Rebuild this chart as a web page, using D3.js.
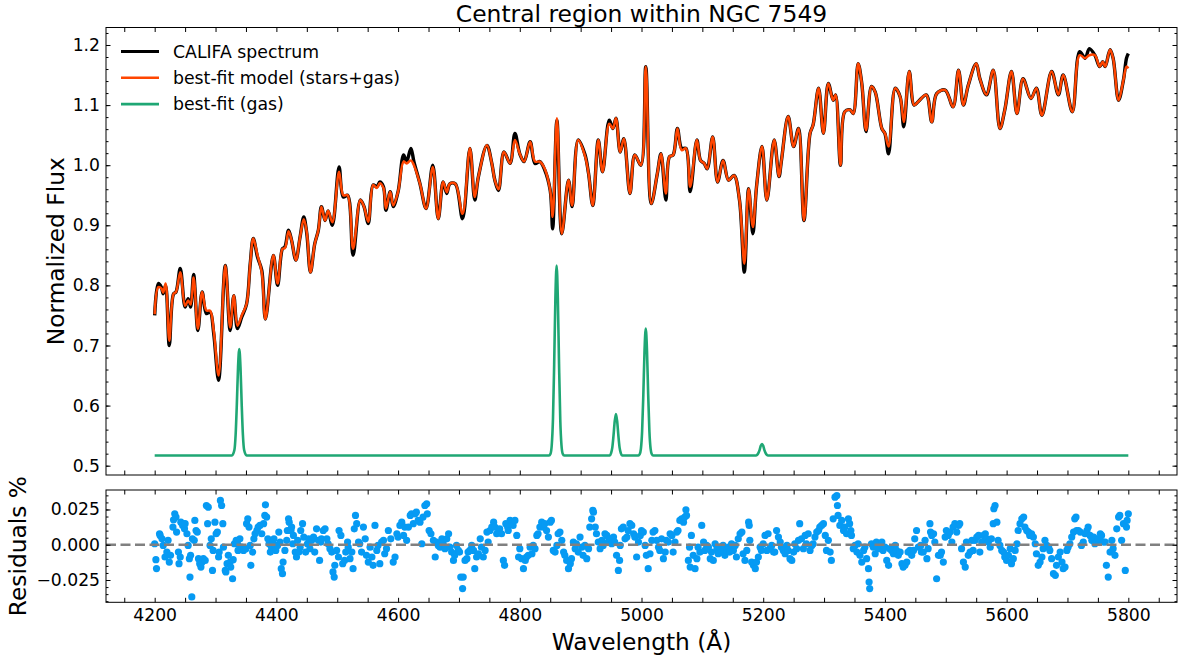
<!DOCTYPE html>
<html>
<head>
<meta charset="utf-8">
<script src="https://cdn.jsdelivr.net/npm/d3@7"></script>
<style>
  body { margin: 0; background: #fff; }
  svg text { font-family: "DejaVu Sans", sans-serif; fill: #000; }
</style>
</head>
<body>
<svg id="chart" width="1180" height="659"></svg>
<script>
var wave = [4200,4206,4211,4214,4218,4224,4231,4235,4242,4250,4255,4259,4264,4271,4278,4285,4291,4297,4305,4316,4324,4330,4336,4343,4351,4357,4362,4369,4376,4382,4395,4402,4410,4414,4420,4425,4432,4439,4445,4450,4456,4463,4469,4474,4480,4485,4492,4503,4510,4517,4526,4538,4544,4551,4559,4565,4570,4576,4580,4587,4592,4600,4609,4614,4621,4626,4636,4646,4657,4666,4674,4680,4685,4694,4706,4718,4726,4732,4746,4754,4759,4765,4774,4784,4792,4800,4807,4817,4825,4833,4841,4850,4854,4861,4869,4880,4886,4896,4907,4913,4920,4929,4936,4947,4953,4958,4965,4971,4981,4989,4999,5007,5016,5026,5032,5040,5046,5052,5059,5066,5073,5080,5091,5097,5103,5108,5117,5125,5134,5143,5152,5161,5169,5176,5183,5189,5198,5206,5218,5226,5230,5241,5250,5258,5267,5277,5282,5291,5299,5307,5315,5319,5327,5334,5343,5348,5356,5362,5369,5378,5384,5395,5400,5406,5417,5425,5431,5440,5448,5455,5468,5477,5485,5499,5512,5521,5529,5537,5550,5556,5567,5578,5589,5597,5608,5617,5627,5640,5649,5658,5674,5685,5693,5708,5720,5729,5736,5745,5753,5758,5762,5770,5775,5784,5792,5797,5800];
var fluxObs = [0.750,0.803,0.797,0.786,0.800,0.700,0.786,0.789,0.828,0.764,0.778,0.764,0.818,0.725,0.789,0.753,0.756,0.720,0.642,0.833,0.725,0.783,0.728,0.747,0.769,0.836,0.878,0.847,0.825,0.744,0.850,0.800,0.861,0.864,0.892,0.875,0.842,0.881,0.914,0.886,0.822,0.869,0.892,0.931,0.908,0.924,0.900,0.997,0.947,0.950,0.850,0.942,0.931,0.903,0.967,0.964,0.972,0.964,0.925,0.956,0.931,0.956,1.017,1.006,1.028,1.006,0.969,0.928,1.000,0.911,0.972,0.953,0.969,0.969,0.911,1.028,0.942,0.981,1.033,1.003,0.975,0.958,1.022,1.003,1.053,1.019,1.006,1.039,1.003,1.006,0.992,0.958,0.894,1.075,0.886,0.975,0.931,1.042,1.018,0.986,0.933,1.042,0.989,1.075,1.061,1.078,1.022,1.044,0.953,1.017,1.000,1.164,0.936,0.986,1.019,0.942,1.014,1.017,1.061,1.028,1.028,0.956,1.042,1.008,1.003,0.994,1.047,0.972,1.008,0.975,0.983,0.942,0.822,0.961,0.886,0.964,1.031,0.942,1.042,0.981,1.008,1.081,1.031,1.061,0.908,1.053,1.067,1.128,1.053,1.136,1.108,1.117,1.000,1.089,1.092,1.086,1.169,1.136,1.056,1.131,1.122,1.061,1.053,1.019,1.128,1.114,1.064,1.156,1.100,1.106,1.117,1.072,1.119,1.125,1.097,1.158,1.100,1.133,1.169,1.144,1.117,1.158,1.061,1.092,1.156,1.086,1.144,1.111,1.128,1.083,1.156,1.117,1.150,1.089,1.189,1.178,1.194,1.183,1.164,1.172,1.164,1.192,1.178,1.108,1.142,1.178,1.186];
var fluxFit = [0.752,0.797,0.795,0.788,0.803,0.708,0.786,0.789,0.822,0.766,0.775,0.768,0.813,0.728,0.789,0.758,0.758,0.725,0.650,0.833,0.730,0.783,0.733,0.750,0.769,0.836,0.878,0.850,0.822,0.744,0.850,0.803,0.861,0.862,0.890,0.875,0.842,0.881,0.910,0.888,0.822,0.869,0.892,0.931,0.908,0.924,0.905,0.989,0.950,0.950,0.861,0.942,0.931,0.906,0.967,0.962,0.970,0.962,0.928,0.956,0.933,0.956,1.006,1.003,1.008,1.000,0.969,0.928,0.997,0.911,0.972,0.955,0.969,0.969,0.919,1.028,0.947,0.981,1.033,1.003,0.975,0.960,1.022,1.003,1.042,1.019,1.006,1.039,1.006,1.006,0.994,0.958,0.914,1.078,0.886,0.975,0.933,1.042,1.016,0.986,0.933,1.042,0.989,1.069,1.061,1.078,1.022,1.044,0.953,1.017,1.000,1.164,0.936,0.986,1.019,0.953,1.014,1.017,1.061,1.025,1.028,0.964,1.042,1.008,1.003,0.994,1.047,0.972,1.008,0.975,0.983,0.942,0.836,0.961,0.897,0.964,1.031,0.942,1.042,0.981,1.008,1.081,1.031,1.061,0.908,1.053,1.067,1.128,1.053,1.136,1.108,1.117,1.000,1.089,1.092,1.086,1.169,1.136,1.058,1.131,1.122,1.061,1.053,1.031,1.128,1.114,1.072,1.156,1.100,1.106,1.117,1.072,1.119,1.125,1.097,1.158,1.100,1.133,1.169,1.144,1.117,1.158,1.061,1.092,1.156,1.086,1.144,1.111,1.128,1.083,1.156,1.117,1.150,1.089,1.183,1.178,1.183,1.183,1.164,1.172,1.164,1.192,1.178,1.108,1.142,1.164,1.161];

// Gas-only best fit (emission lines on flat baseline)
var gasWave = [4200,4327,4331,4333,4335,4337,4339,4341,4343,4345,4347,4351,
  4848,4850.5,4852.5,4854.5,4856.5,4858.5,4860.5,4862.5,4864.5,4866.5,4868.5,4870.5,4873,
  4948,4950,4952,4954,4956,4958,4960,4962,4964,4966,4968,
  4995,4997,4999,5001,5003,5005,5007,5009,5011,5013,5015,5017,5019,
  5188,5190,5192,5194,5196,5198,5200,5202,5204,5206,5208,5800];
var gasFlux = [0.517,0.517,0.526,0.551,0.602,0.664,0.694,0.664,0.602,0.551,0.526,0.517,
  0.517,0.520,0.534,0.577,0.669,0.779,0.833,0.779,0.669,0.577,0.534,0.520,0.517,
  0.517,0.521,0.530,0.550,0.574,0.586,0.574,0.550,0.530,0.521,0.517,
  0.517,0.519,0.528,0.557,0.618,0.692,0.728,0.692,0.618,0.557,0.528,0.519,0.517,
  0.517,0.518,0.521,0.526,0.533,0.536,0.533,0.526,0.521,0.518,0.517,0.517];

// Residuals: [wavelength, residual]
var residuals = [[4200,0.0007],[4202,-0.0106],[4203,-0.0169],[4208,0.0078],[4209,0.0066],[4212,0.0042],[4214,-0.0005],[4217,-0.0087],[4220,-0.0052],[4222,0.0031],[4224,-0.0123],[4226,-0.0075],[4230,0.0125],[4231,0.0177],[4233,0.0219],[4235,0.0196],[4236,0.009],[4239,-0.0052],[4240,-0.0134],[4242,-0.0087],[4243,0.016],[4246,0.0137],[4247,0.0149],[4249,0.0113],[4250,0.0149],[4253,0.0078],[4255,-0.0005],[4257,-0.0099],[4258,-0.0229],[4259,-0.0075],[4261,-0.037],[4262,0.0042],[4265,0.0031],[4266,0.0172],[4268,0.0101],[4270,0.009],[4272,-0.0099],[4274,-0.0134],[4276,-0.0158],[4278,-0.0123],[4280,-0.0099],[4283,-0.0111],[4285,0.0278],[4287,0.0149],[4288,0.0266],[4291,-0.0005],[4293,0.0042],[4295,-0.0182],[4296,-0.004],[4299,0.016],[4301,0.0078],[4303,0.009],[4305,-0.0087],[4306,-0.0052],[4308,0.0314],[4310,0.0278],[4312,0.0149],[4313,-0.0017],[4316,-0.0182],[4317,-0.0193],[4319,-0.0134],[4321,-0.0075],[4324,-0.0123],[4325,-0.0158],[4328,-0.0241],[4329,-0.0106],[4331,0.0007],[4334,0.0031],[4336,0.0007],[4337,-0.004],[4340,0.0042],[4343,-0.0017],[4346,-0.004],[4350,-0.0028],[4351,0.0149],[4353,0.0184],[4355,0.0125],[4357,-0.0005],[4358,-0.0146],[4361,-0.0052],[4363,0.0042],[4365,0.0078],[4368,0.0101],[4370,0.0125],[4373,0.0137],[4376,0.0078],[4379,0.0149],[4381,0.0208],[4382,0.0283],[4384,0.0196],[4386,0.0042],[4388,0.0007],[4390,-0.0052],[4392,-0.0017],[4394,0.0019],[4396,0.0042],[4398,-0.0017],[4399,-0.004],[4402,-0.0005],[4404,0.009],[4406,0.0019],[4408,-0.017],[4410,-0.0205],[4411,-0.0123],[4414,-0.004],[4417,0.0031],[4418,0.0101],[4420,0.0184],[4421,0.016],[4424,0.0101],[4425,0.0125],[4427,0.0007],[4428,0.0066],[4431,-0.0052],[4433,-0.0087],[4435,0.0031],[4437,-0.0052],[4439,-0.0017],[4440,0.0101],[4443,0.0149],[4445,0.0054],[4448,-0.0052],[4451,0.0007],[4453,0.0042],[4455,-0.0028],[4458,0.0031],[4461,0.0054],[4463,-0.0052],[4466,0.0113],[4469,0.0031],[4471,-0.0111],[4473,0.0019],[4474,0.0042],[4477,0.0101],[4480,0.0113],[4483,0.0042],[4485,0.0007],[4488,-0.0028],[4491,-0.0052],[4493,-0.0193],[4495,-0.0229],[4496,-0.0146],[4499,-0.004],[4502,-0.0087],[4503,0.0101],[4506,0.0066],[4509,-0.0134],[4512,-0.0111],[4514,-0.0052],[4517,0.0019],[4518,-0.0017],[4521,-0.0099],[4524,-0.0052],[4526,-0.017],[4528,0.0113],[4530,0.0208],[4532,0.0149],[4535,0.0019],[4537,0.0007],[4540,-0.0052],[4543,0.0125],[4546,0.0042],[4548,-0.0075],[4551,-0.0123],[4554,-0.0017],
[4557,-0.0087],[4559,-0.0146],[4562,0.0137],[4565,-0.004],[4567,-0.0005],[4570,-0.0134],[4573,0.0019],[4576,0.0031],[4578,-0.0064],[4581,-0.0028],[4584,0.0101],[4588,0.0042],[4592,-0.0123],[4595,-0.0087],[4598,0.0078],[4600,0.0054],[4603,0.0137],[4606,0.016],[4609,0.0066],[4611,0.0125],[4614,0.0031],[4617,0.0125],[4620,0.0208],[4622,0.0219],[4625,0.0149],[4628,0.0219],[4630,0.0231],[4633,0.0172],[4636,0.016],[4639,0.0007],[4641,0.0196],[4644,0.0278],[4647,0.029],[4648,0.0219],[4651,0.0101],[4654,0.0078],[4658,0.0031],[4661,-0.0087],[4663,0.0019],[4666,-0.0005],[4669,-0.0017],[4672,0.0042],[4674,0.0007],[4677,-0.0028],[4680,0.0042],[4683,0.0078],[4685,-0.0017],[4688,-0.0052],[4691,-0.0111],[4693,-0.0075],[4696,-0.0005],[4699,-0.004],[4701,-0.0052],[4703,-0.0229],[4706,-0.0311],[4707,-0.0229],[4710,-0.0111],[4713,-0.0099],[4715,-0.0052],[4718,-0.004],[4721,-0.0005],[4724,-0.004],[4726,-0.017],[4729,-0.0087],[4732,-0.0064],[4735,0.0042],[4737,-0.0017],[4740,-0.0087],[4743,-0.004],[4746,0.009],[4748,0.0019],[4751,0.0101],[4754,0.0125],[4757,0.016],[4759,0.0125],[4762,0.0078],[4765,0.009],[4767,0.0113],[4770,0.0078],[4773,-0.0111],[4775,-0.0146],[4777,0.0149],[4780,0.0125],[4781,0.0101],[4784,0.0172],[4787,0.016],[4789,0.0137],[4792,0.0172],[4795,0.0066],[4798,-0.0087],[4800,-0.0028],[4803,-0.0099],[4806,-0.017],[4809,-0.0111],[4811,-0.0087],[4814,-0.0075],[4817,-0.0017],[4820,-0.0064],[4822,-0.0005],[4825,-0.0028],[4828,0.0066],[4830,0.0078],[4833,0.0125],[4836,0.016],[4839,0.0125],[4841,0.0149],[4844,0.0101],[4847,0.0054],[4850,0.016],[4852,0.0172],[4855,-0.004],[4858,-0.0052],[4861,-0.0005],[4863,0.0078],[4866,0.009],[4869,0.0031],[4872,-0.0052],[4874,-0.0075],[4877,-0.0111],[4880,-0.017],[4883,-0.0134],[4885,-0.0099],[4888,0.0019],[4891,-0.0028],[4893,0.0007],[4896,-0.0052],[4899,0.0054],[4902,-0.0017],[4904,-0.0075],[4907,-0.0005],[4910,-0.0099],[4913,-0.0028],[4915,0.0125],[4918,0.0184],[4920,0.0243],[4921,0.0231],[4924,0.0125],[4926,0.0078],[4929,0.0019],[4932,-0.0028],[4935,0.0031],[4937,-0.0005],[4940,0.0078],[4943,0.0066],[4945,0.0019],[4948,0.0042],[4951,0.0007],[4954,0.0054],[4956,0.0019],[4959,-0.0075],[4962,-0.0182],[4964,-0.0111],[4965,-0.0005],[4967,0.0113],[4970,0.0125],[4973,0.0042],[4976,0.0054],[4978,0.0101],[4981,0.0149],[4984,0.0137],[4987,0.0078],[4989,0.0054],[4992,-0.0087],[4995,0.0019],[4998,0.0066],[5000,0.0101],[5003,0.009],[5006,-0.0005],[5008,-0.0075],[5011,-0.017],[5014,-0.0064],
[5017,0.0031],[5019,0.009],[5022,0.0101],[5025,0.0031],[5028,-0.0017],[5030,-0.004],[5033,0.0042],[5036,-0.0099],[5039,-0.0052],[5041,0.0031],[5044,0.0019],[5047,0.0078],[5050,0.0066],[5052,-0.0052],[5055,0.0019],[5058,0.009],[5060,0.0101],[5063,0.0172],[5066,0.0184],[5069,0.016],[5071,0.0196],[5073,0.0248],[5074,0.0208],[5077,-0.0111],[5079,-0.0017],[5080,-0.0158],[5082,0.0066],[5085,-0.0075],[5088,-0.017],[5091,-0.0099],[5093,-0.0017],[5096,-0.0052],[5099,0.0137],[5102,0.0019],[5104,-0.004],[5107,-0.0005],[5110,-0.0017],[5113,-0.0099],[5115,-0.0052],[5118,-0.0111],[5121,0.0007],[5124,-0.0028],[5126,-0.0064],[5129,-0.0017],[5132,-0.0052],[5134,-0.0005],[5137,-0.0075],[5140,-0.004],[5143,-0.0017],[5145,-0.0052],[5148,0.0007],[5151,-0.004],[5154,-0.0005],[5156,-0.0087],[5159,0.0042],[5162,0.0078],[5165,0.009],[5167,-0.0064],[5170,-0.0111],[5173,-0.004],[5176,0.016],[5177,0.0137],[5178,0.0031],[5181,-0.0123],[5184,-0.0146],[5187,-0.017],[5189,-0.0123],[5192,-0.0087],[5195,-0.0017],[5197,-0.004],[5200,0.0007],[5203,0.0066],[5206,-0.004],[5208,0.0078],[5211,-0.0028],[5214,-0.0005],[5217,-0.0052],[5219,-0.0052],[5222,0.0101],[5225,0.0054],[5228,0.0019],[5230,-0.0017],[5233,-0.004],[5236,-0.0064],[5239,-0.0005],[5241,-0.004],[5244,-0.0099],[5247,-0.0111],[5250,-0.0052],[5252,0.0007],[5255,-0.0028],[5258,0.0031],[5260,0.0149],[5263,0.0042],[5266,-0.0028],[5269,0.0066],[5271,0.0007],[5274,0.0078],[5277,-0.004],[5280,-0.0005],[5282,0.0007],[5285,0.0054],[5288,0.009],[5291,0.0101],[5293,0.0125],[5296,0.0137],[5299,0.0149],[5302,0.0066],[5304,-0.004],[5307,0.0031],[5310,-0.0052],[5312,-0.0111],[5315,0.0184],[5318,0.0337],[5321,0.0349],[5322,0.0278],[5323,0.0208],[5326,0.0137],[5329,0.0172],[5332,0.0101],[5334,0.0125],[5337,0.0078],[5340,0.0184],[5342,0.0149],[5344,0.0101],[5345,0.0066],[5348,-0.0028],[5351,-0.0005],[5354,-0.0052],[5356,0.0007],[5359,-0.0075],[5362,-0.0123],[5365,-0.004],[5367,-0.0017],[5370,-0.0099],[5373,-0.017],[5374,-0.0264],[5375,-0.0311],[5378,0.0007],[5381,-0.0017],[5384,-0.0064],[5386,0.0019],[5389,-0.0028],[5392,0.0007],[5395,0.0019],[5397,-0.004],[5400,-0.0017],[5403,-0.0111],[5406,-0.0146],[5408,-0.0028],[5411,-0.004],[5414,-0.0064],[5417,-0.0005],[5419,-0.004],[5422,-0.0075],[5425,-0.0052],[5428,-0.0134],[5430,-0.0158],[5433,-0.0146],[5436,-0.0123],[5438,-0.0052],[5441,-0.004],[5444,-0.0075],[5447,-0.004],[5449,0.0042],[5452,0.0101],[5455,-0.0017],
[5459,-0.0005],[5460,-0.0052],[5463,-0.0052],[5466,0.0031],[5469,-0.0099],[5471,-0.0028],[5474,0.0149],[5475,0.009],[5477,0.0066],[5480,0.0078],[5482,0.0019],[5485,-0.0241],[5488,-0.0075],[5491,-0.0075],[5493,-0.0052],[5496,-0.0123],[5499,0.0054],[5501,0.0101],[5504,0.0066],[5507,0.009],[5510,0.0019],[5512,0.0125],[5515,0.0149],[5518,0.009],[5521,0.0137],[5523,0.0149],[5526,-0.0028],[5529,-0.0123],[5532,-0.0158],[5534,0.0019],[5537,-0.0075],[5540,-0.0052],[5543,0.0031],[5545,-0.004],[5548,0.0031],[5551,0.0054],[5554,0.0066],[5556,-0.0052],[5559,0.0019],[5562,0.0066],[5565,0.0078],[5567,0.0042],[5570,0.0019],[5573,-0.0017],[5575,0.0042],[5578,0.0149],[5579,0.0255],[5581,0.0278],[5584,0.016],[5586,0.0031],[5589,-0.0005],[5592,-0.004],[5595,-0.0052],[5597,-0.0087],[5600,-0.0111],[5603,-0.0075],[5606,-0.0028],[5608,-0.0134],[5611,-0.0099],[5614,-0.004],[5617,0.0007],[5619,0.0101],[5622,0.0149],[5625,0.0184],[5628,0.0196],[5630,0.0125],[5633,0.0101],[5636,0.009],[5638,0.0066],[5641,0.0078],[5644,0.0054],[5647,0.0007],[5649,-0.0064],[5652,-0.0146],[5655,-0.0123],[5658,-0.0087],[5660,-0.0028],[5663,0.0031],[5666,-0.0005],[5669,-0.0017],[5671,-0.004],[5674,-0.0099],[5677,-0.0205],[5680,-0.0217],[5682,-0.0146],[5685,-0.0087],[5688,-0.0052],[5691,-0.0123],[5693,-0.017],[5696,-0.0158],[5699,-0.004],[5701,-0.0017],[5704,0.0007],[5707,0.0054],[5710,0.009],[5712,0.0184],[5714,0.0196],[5715,0.0101],[5718,0.0101],[5721,0.009],[5723,-0.0005],[5726,0.0019],[5729,0.0078],[5732,0.0101],[5734,0.0125],[5737,0.0066],[5740,0.0031],[5743,0.0054],[5745,0.0007],[5748,0.0019],[5751,0.0042],[5754,0.0078],[5756,0.0066],[5759,0.0019],[5762,0.0019],[5764,-0.0146],[5767,-0.0229],[5770,-0.0052],[5773,0.0031],[5775,-0.0028],[5778,-0.0075],[5781,0.0113],[5784,0.0196],[5786,0.0208],[5789,0.0031],[5792,0.0149],[5795,-0.0182],[5797,0.0125],[5798,0.0172],[5800,0.0219]];

var xTicksLabeled = [4200, 4400, 4600, 4800, 5000, 5200, 5400, 5600, 5800];
var fluxTicks = [0.5, 0.6, 0.7, 0.8, 0.9, 1.0, 1.1, 1.2];
var residTicks = [-0.025, 0, 0.025];
var legendLabels = ["CALIFA spectrum", "best-fit model (stars+gas)", "best-fit (gas)"];

var colObs = "#000000", colFit = "#FF4500", colGas = "#1FA774", colRes = "#069AF3";

var svg = d3.select("#chart");
svg.append("rect").attr("width", 1180).attr("height", 659).attr("fill", "#fff");

var left = 106, right = 1177;
var top1 = 27.5, bot1 = 475;
var top2 = 490, bot2 = 602.3;

var x = d3.scaleLinear().domain([4120, 5880]).range([left, right]);
var y1 = d3.scaleLinear().domain([0.4845, 1.2291]).range([bot1, top1]);
var y2 = d3.scaleLinear().domain([-0.0408, 0.0388]).range([bot2, top2]);

var xTicksAll = d3.range(4150, 5851, 50);

function styleAxis(g, fs) {
  g.select(".domain").remove();
  g.selectAll("line").attr("stroke", "#000").attr("stroke-width", 1);
  g.selectAll("text").attr("font-family", "DejaVu Sans").attr("font-size", fs).attr("fill", "#000");
}

function drawFrame(top, bot, yScale, yMajor, yMinor, yFmt, showX) {
  // x ticks bottom and top
  var gb = svg.append("g").attr("transform", "translate(0," + bot + ")")
    .call(d3.axisBottom(x).tickValues(xTicksAll).tickSize(-4.5).tickPadding(6.5)
      .tickFormat(function(d){ return showX && xTicksLabeled.indexOf(d) >= 0 ? d : ""; }));
  styleAxis(gb, "17.2px");
  var gt = svg.append("g").attr("transform", "translate(0," + top + ")")
    .call(d3.axisTop(x).tickValues(xTicksAll).tickSize(-4.5).tickFormat(""));
  styleAxis(gt, "17.2px");
  // y major
  var gl = svg.append("g").attr("transform", "translate(" + left + ",0)")
    .call(d3.axisLeft(yScale).tickValues(yMajor).tickSize(-4.5).tickPadding(6).tickFormat(yFmt));
  styleAxis(gl, "17.2px");
  var gr = svg.append("g").attr("transform", "translate(" + right + ",0)")
    .call(d3.axisRight(yScale).tickValues(yMajor).tickSize(-4.5).tickFormat(""));
  styleAxis(gr, "17.2px");
  // y minor
  var gl2 = svg.append("g").attr("transform", "translate(" + left + ",0)")
    .call(d3.axisLeft(yScale).tickValues(yMinor).tickSize(-2.5).tickFormat(""));
  styleAxis(gl2, "17.2px");
  var gr2 = svg.append("g").attr("transform", "translate(" + right + ",0)")
    .call(d3.axisRight(yScale).tickValues(yMinor).tickSize(-2.5).tickFormat(""));
  styleAxis(gr2, "17.2px");
  svg.append("rect").attr("x", left).attr("y", top).attr("width", right - left).attr("height", bot - top)
    .attr("fill", "none").attr("stroke", "#000").attr("stroke-width", 1);
}

// ---- main panel
var fluxMinor = d3.range(0.5, 1.221, 0.02).map(function(d){ return +d.toFixed(2); });
var lineGen = function(vals) {
  return d3.line().curve(d3.curveCatmullRom.alpha(0.5))
    .x(function(d, i){ return x(wave[i]); })
    .y(function(d){ return y1(d); })(vals);
};
svg.append("path").attr("d", lineGen(fluxObs)).attr("fill", "none").attr("stroke", colObs).attr("stroke-width", 3.4).attr("stroke-linejoin", "round");
svg.append("path").attr("d", lineGen(fluxFit)).attr("fill", "none").attr("stroke", colFit).attr("stroke-width", 2.5).attr("stroke-linejoin", "round");

var gasLine = d3.line().curve(d3.curveMonotoneX)
  .x(function(d, i){ return x(gasWave[i]); })
  .y(function(d){ return y1(d); });
svg.append("path").attr("d", gasLine(gasFlux)).attr("fill", "none").attr("stroke", colGas).attr("stroke-width", 2.6);

drawFrame(top1, bot1, y1, fluxTicks, fluxMinor, d3.format(".1f"), false);

// legend
var legendColors = [colObs, colFit, colGas];
var legendWidths = [3, 2.6, 2.6];
legendLabels.forEach(function(lab, i) {
  var yy = 51.5 + i * 26.3;
  svg.append("line").attr("x1", 121).attr("x2", 159).attr("y1", yy).attr("y2", yy)
    .attr("stroke", legendColors[i]).attr("stroke-width", legendWidths[i]);
  svg.append("text").attr("x", 173).attr("y", yy).attr("dy", "0.36em")
    .attr("font-size", "17.3px").text(lab);
});

// title and labels
svg.append("text").attr("x", (left + right) / 2).attr("y", 21.5).attr("text-anchor", "middle")
  .attr("font-size", "23.4px").text("Central region within NGC 7549");
svg.append("text").attr("transform", "translate(64," + ((top1 + bot1) / 2) + ") rotate(-90)")
  .attr("text-anchor", "middle").attr("font-size", "23.3px").text("Normalized Flux");

// ---- residual panel
var residMinor = d3.range(-0.04, 0.0381, 0.005).map(function(d){ return +d.toFixed(3); });
svg.append("g").selectAll("circle").data(residuals).enter().append("circle")
  .attr("cx", function(d){ return x(d[0]); })
  .attr("cy", function(d){ return y2(d[1]); })
  .attr("r", 3.6).attr("fill", colRes);
svg.append("line").attr("x1", left).attr("x2", right).attr("y1", y2(0)).attr("y2", y2(0))
  .attr("stroke", "#808080").attr("stroke-width", 2.6).attr("stroke-dasharray", "10,4.5");

drawFrame(top2, bot2, y2, residTicks, residMinor, function(d){ return d3.format(".3f")(d).replace("-", "\u2212"); }, true);

svg.append("text").attr("transform", "translate(26," + ((top2 + bot2) / 2) + ") rotate(-90)")
  .attr("text-anchor", "middle").attr("font-size", "23.3px").text("Residuals %");
svg.append("text").attr("x", (left + right) / 2).attr("y", 650).attr("text-anchor", "middle")
  .attr("font-size", "23.3px").text("Wavelength (\u00C5)");
</script>
</body>
</html>
